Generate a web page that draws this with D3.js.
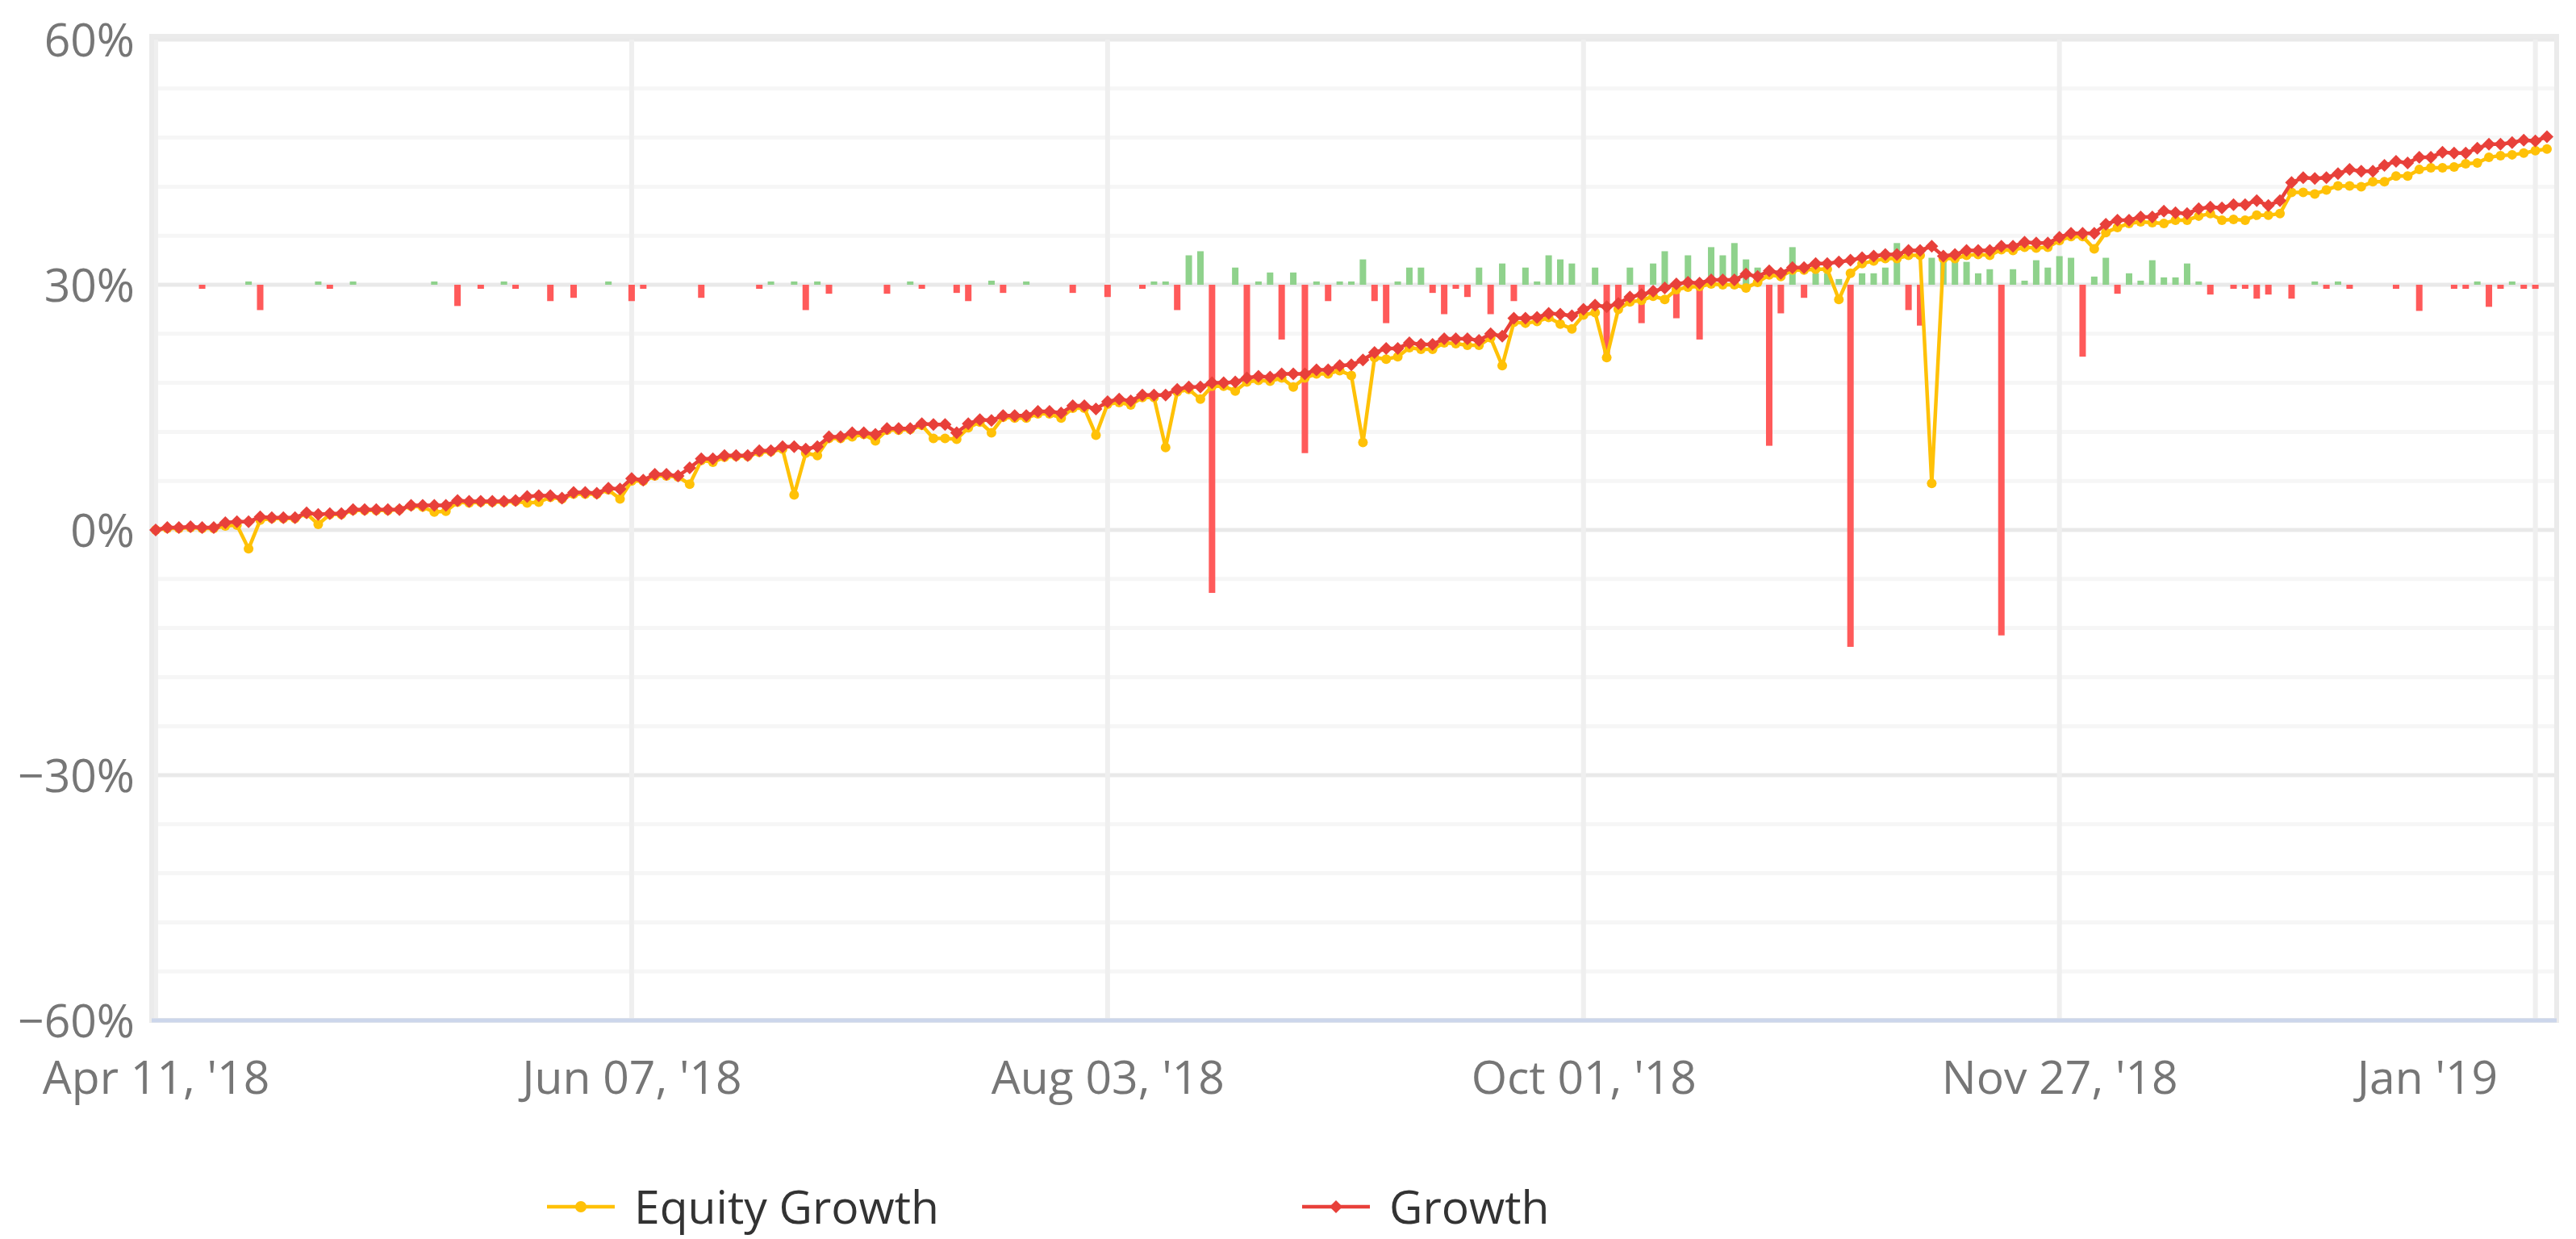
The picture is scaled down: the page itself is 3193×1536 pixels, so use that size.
<!doctype html>
<html lang="en">
<head>
<meta charset="utf-8">
<title>Growth</title>
<script src="https://d3js.org/d3.v7.min.js"></script>
<style>
  body { margin: 0; background: #fff; }
  svg { display: block; font-family: "Open Sans", sans-serif; }
  .axis text { fill: #767676; font-size: 57px; }
  .legend text { fill: #333; font-size: 57px; }
</style>
</head>
<body>
<div id="chart"></div>
<script>
// one value per trading day, starting Apr 11 '18 (percent)
var growth = [
  0, 0.3, 0.3, 0.4, 0.3, 0.3, 0.9, 1.0, 1.0, 1.6,
  1.5, 1.5, 1.5, 2.1, 1.9, 2.0, 2.0, 2.5, 2.5, 2.5,
  2.5, 2.5, 3.0, 3.0, 3.0, 3.0, 3.6, 3.5, 3.5, 3.5,
  3.5, 3.6, 4.1, 4.2, 4.2, 3.9, 4.6, 4.6, 4.5, 5.1,
  5.0, 6.3, 6.1, 6.8, 6.8, 6.6, 7.6, 8.7, 8.7, 9.1,
  9.1, 9.1, 9.7, 9.7, 10.2, 10.2, 9.9, 10.2, 11.4, 11.4,
  11.9, 11.9, 11.7, 12.4, 12.4, 12.4, 13.0, 12.9, 12.9, 11.9,
  13.0, 13.5, 13.4, 14.0, 14.0, 14.0, 14.5, 14.5, 14.3, 15.2,
  15.2, 14.8, 15.7, 16.0, 15.8, 16.5, 16.5, 16.5, 17.2, 17.5,
  17.5, 18.0, 18.0, 18.1, 18.6, 18.8, 18.7, 19.1, 19.1, 19.1,
  19.6, 19.6, 20.1, 20.2, 20.8, 21.7, 22.2, 22.2, 22.9, 22.7,
  22.7, 23.4, 23.4, 23.4, 23.2, 24.0, 23.7, 25.9, 25.9, 26.0,
  26.5, 26.4, 26.2, 27.0, 27.5, 27.3, 27.7, 28.5, 28.8, 29.2,
  29.6, 30.1, 30.3, 30.2, 30.6, 30.6, 30.6, 31.3, 31.0, 31.7,
  31.4, 32.1, 32.1, 32.6, 32.6, 32.8, 33.0, 33.3, 33.5, 33.7,
  33.7, 34.2, 34.2, 34.7, 33.5, 33.7, 34.2, 34.2, 34.2, 34.7,
  34.7, 35.2, 35.1, 35.1, 35.8, 36.3, 36.3, 36.3, 37.4, 37.9,
  37.9, 38.3, 38.3, 39.0, 38.8, 38.7, 39.3, 39.5, 39.4, 39.8,
  39.8, 40.3, 39.7, 40.3, 42.5, 43.1, 43.0, 43.1, 43.6, 44.1,
  43.9, 43.9, 44.6, 45.1, 44.9, 45.6, 45.6, 46.2, 46.1, 46.1,
  46.7, 47.2, 47.2, 47.4, 47.7, 47.6, 48.1
];

var equityGrowth = [
  0, 0.2, 0.2, 0.3, 0.2, 0.2, 0.5, 0.6, -2.3, 1.2,
  1.4, 1.4, 1.4, 2.0, 0.7, 1.9, 1.9, 2.4, 2.4, 2.4,
  2.4, 2.5, 2.9, 2.8, 2.2, 2.3, 3.4, 3.3, 3.4, 3.4,
  3.4, 3.5, 3.3, 3.4, 4.0, 3.8, 4.4, 4.4, 4.4, 4.9,
  3.8, 6.0, 6.0, 6.6, 6.6, 6.5, 5.6, 8.5, 8.3, 8.9,
  9.0, 9.0, 9.5, 9.6, 9.9, 4.3, 9.4, 9.1, 11.2, 11.2,
  11.4, 11.7, 10.9, 12.2, 12.2, 12.3, 12.8, 11.2, 11.2, 11.1,
  12.5, 13.2, 11.9, 13.8, 13.7, 13.7, 14.2, 14.2, 13.7, 14.9,
  14.9, 11.6, 15.4, 15.6, 15.3, 16.2, 16.2, 10.1, 16.9, 17.2,
  16.0, 17.6, 17.6, 17.0, 18.1, 18.3, 18.2, 18.6, 17.5, 18.6,
  19.1, 19.1, 19.5, 18.9, 10.7, 21.1, 20.9, 21.2, 22.3, 22.1,
  22.1, 22.9, 22.8, 22.6, 22.6, 23.5, 20.1, 25.4, 25.3, 25.5,
  26.0, 25.2, 24.6, 26.3, 26.6, 21.1, 27.0, 27.9, 28.1, 28.6,
  28.2, 29.4, 29.7, 29.8, 30.1, 30.0, 30.0, 29.6, 30.3, 31.2,
  31.0, 31.8, 31.8, 31.9, 31.9, 28.2, 31.4, 32.6, 32.9, 33.2,
  33.2, 33.6, 33.6, 5.7, 33.2, 33.2, 33.6, 33.7, 33.6, 34.3,
  34.2, 34.6, 34.5, 34.6, 35.4, 35.9, 35.9, 34.4, 36.4, 37.0,
  37.5, 37.7, 37.6, 37.5, 37.9, 37.9, 38.4, 38.7, 37.9, 38.0,
  37.9, 38.5, 38.5, 38.7, 41.3, 41.3, 41.1, 41.6, 42.1, 42.1,
  42.0, 42.6, 42.6, 43.3, 43.3, 44.1, 44.3, 44.3, 44.4, 44.8,
  44.9, 45.6, 45.8, 45.9, 46.1, 46.4, 46.6
];

// daily result, drawn as columns up/down from the 30% line
var dailyBars = [
  0, 0, 0, 0, -0.5, 0, 0, 0, 0.4, -3.1,
  0, 0, 0, 0, 0.4, -0.5, 0, 0.4, 0, 0,
  0, 0, 0, 0, 0.4, 0, -2.6, 0, -0.5, 0,
  0.4, -0.5, 0, 0, -2.0, 0, -1.6, 0, 0, 0.4,
  0, -2.0, -0.5, 0, 0, 0, 0, -1.6, 0, 0,
  0, 0, -0.5, 0.4, 0, 0.4, -3.1, 0.4, -1.1, 0,
  0, 0, 0, -1.1, 0, 0.4, -0.5, 0, 0, -1.0,
  -2.0, 0, 0.5, -1.0, 0, 0.4, 0, 0, 0, -1.0,
  0, 0, -1.5, 0, 0, -0.5, 0.4, 0.4, -3.1, 3.6,
  4.1, -37.7, 0, 2.1, -11.2, 0.4, 1.5, -6.7, 1.5, -20.6,
  0.4, -2.0, 0.4, 0.4, 3.1, -2.0, -4.7, 0.4, 2.1, 2.1,
  -1.0, -3.6, -0.5, -1.5, 2.1, -3.6, 2.6, -2.0, 2.1, 0.4,
  3.6, 3.1, 2.6, 0, 2.1, -8.8, -2.8, 2.1, -4.7, 2.6,
  4.1, -4.1, 3.6, -6.7, 4.6, 3.6, 5.1, 3.1, 2.1, -19.7,
  -3.5, 4.6, -1.6, 1.4, 1.4, 0.7, -44.3, 1.4, 1.4, 2.1,
  5.1, -3.1, -5.0, 3.3, 3.3, 3.0, 2.8, 1.4, 1.9, -42.9,
  1.9, 0.5, 3.0, 2.1, 3.5, 3.3, -8.8, 1.0, 3.3, -1.1,
  1.4, 0.5, 3.0, 0.9, 0.9, 2.6, 0.4, -1.2, 0, -0.5,
  -0.5, -1.7, -1.2, 0, -1.7, 0, 0.4, -0.5, 0.4, -0.5,
  0, 0, 0, -0.5, 0, -3.2, 0, 0, -0.5, -0.5,
  0.4, -2.7, -0.5, 0.4, -0.5, -0.5, 0
];

var tickLabels = ["Apr 11, '18", "Jun 07, '18", "Aug 03, '18", "Oct 01, '18", "Nov 27, '18", "Jan '19"];
var tickIndex = [0, 41, 82, 123, 164, 205];
var yTicks = [-60, -30, 0, 30, 60];
var barBase = 30;

var W = 3193, H = 1536;
var plotLeft = 188, plotRight = 3169, plotTop = 49, plotBottom = 1265;

var svg = d3.select("#chart").append("svg")
  .attr("width", W)
  .attr("height", H);

var x = d3.scaleLinear().domain([0, growth.length - 1]).range([193, 3157]);
var y = d3.scaleLinear().domain([-60, 60]).range([plotBottom, plotTop]);

// minor horizontal grid every 6%
svg.append("g").selectAll("line")
  .data(d3.range(-60, 61, 6).filter(function(d){ return d % 30 != 0; }))
  .join("line")
    .attr("x1", plotLeft).attr("x2", plotRight)
    .attr("y1", function(d){ return y(d); })
    .attr("y2", function(d){ return y(d); })
    .attr("stroke", "#f6f6f6")
    .attr("stroke-width", 5);

// major horizontal grid
svg.append("g").selectAll("line")
  .data(yTicks)
  .join("line")
    .attr("x1", plotLeft).attr("x2", plotRight)
    .attr("y1", function(d){ return y(d); })
    .attr("y2", function(d){ return y(d); })
    .attr("stroke", "#e9e9e9")
    .attr("stroke-width", 5);

// vertical grid on the date ticks
svg.append("g").selectAll("line")
  .data(tickIndex)
  .join("line")
    .attr("x1", function(d){ return x(d); })
    .attr("x2", function(d){ return x(d); })
    .attr("y1", plotTop).attr("y2", plotBottom)
    .attr("stroke", "#efefef")
    .attr("stroke-width", 6);

// plot frame
svg.append("rect")
  .attr("x", plotLeft).attr("y", plotTop - 4)
  .attr("width", plotRight - plotLeft).attr("height", plotBottom - plotTop + 4)
  .attr("fill", "none")
  .attr("stroke", "#ebebeb")
  .attr("stroke-width", 6);

// columns
svg.append("g").selectAll("rect")
  .data(dailyBars.map(function(v, i){ return {i: i, v: v}; }).filter(function(d){ return d.v != 0; }))
  .join("rect")
    .attr("x", function(d){ return x(d.i) - 4; })
    .attr("width", 8)
    .attr("y", function(d){ return Math.min(y(barBase), y(barBase + d.v)); })
    .attr("height", function(d){ return Math.abs(y(barBase + d.v) - y(barBase)); })
    .attr("fill", function(d){ return d.v > 0 ? "#8fd28c" : "#ff5a5a"; });

// x axis line
svg.append("line")
  .attr("x1", plotLeft).attr("x2", plotRight)
  .attr("y1", plotBottom).attr("y2", plotBottom)
  .attr("stroke", "#ccd6eb")
  .attr("stroke-width", 5);

var line = d3.line()
  .x(function(d, i){ return x(i); })
  .y(function(d){ return y(d); });

var EQ = "#ffc107", GR = "#e8403a";
var diamond = "M0,-8L8,0L0,8L-8,0Z";

// equity growth
svg.append("path")
  .datum(equityGrowth)
  .attr("d", line)
  .attr("fill", "none")
  .attr("stroke", EQ)
  .attr("stroke-width", 4.5)
  .attr("stroke-linejoin", "round");
svg.append("g").selectAll("circle")
  .data(equityGrowth)
  .join("circle")
    .attr("cx", function(d, i){ return x(i); })
    .attr("cy", function(d){ return y(d); })
    .attr("r", 6)
    .attr("fill", EQ);

// growth
svg.append("path")
  .datum(growth)
  .attr("d", line)
  .attr("fill", "none")
  .attr("stroke", GR)
  .attr("stroke-width", 4.5)
  .attr("stroke-linejoin", "round");
svg.append("g").selectAll("path")
  .data(growth)
  .join("path")
    .attr("d", diamond)
    .attr("transform", function(d, i){ return "translate(" + x(i) + "," + y(d) + ")"; })
    .attr("fill", GR);

// y axis labels
var yAxis = d3.axisLeft(y)
  .tickValues(yTicks)
  .tickSize(0)
  .tickPadding(0)
  .tickFormat(function(d){ return d3.format("d")(d) + "%"; });
var gy = svg.append("g")
  .attr("class", "axis")
  .attr("transform", "translate(167,0)")
  .call(yAxis)
  .attr("font-family", null)
  .attr("font-size", null);
gy.select(".domain").remove();
gy.selectAll("text").attr("dy", "0.36em");

// x axis labels
var xAxis = d3.axisBottom(x)
  .tickValues(tickIndex)
  .tickSize(0)
  .tickPadding(0)
  .tickFormat(function(d, i){ return tickLabels[i]; });
var gx = svg.append("g")
  .attr("class", "axis")
  .attr("transform", "translate(0,1300)")
  .call(xAxis)
  .attr("font-family", null)
  .attr("font-size", null);
gx.select(".domain").remove();
gx.selectAll("text").attr("dy", "0.98em");
// last label pulled inside the chart
gx.selectAll(".tick").filter(function(d, i){ return i == tickIndex.length - 1; })
  .select("text").attr("text-anchor", "end").attr("x", -47);

// legend
var legendItems = [
  {name: "Equity Growth", color: EQ, x: 678, shape: "circle"},
  {name: "Growth", color: GR, x: 1614, shape: "diamond"}
];
var lg = svg.append("g").attr("class", "legend");
legendItems.forEach(function(it){
  var g = lg.append("g").attr("transform", "translate(" + it.x + ",1496)");
  g.append("line").attr("x1", 0).attr("x2", 84)
    .attr("stroke", it.color).attr("stroke-width", 4.5);
  if (it.shape == "circle") {
    g.append("circle").attr("cx", 42).attr("r", 7).attr("fill", it.color);
  } else {
    g.append("path").attr("d", diamond).attr("transform", "translate(42,0)").attr("fill", it.color);
  }
  g.append("text").attr("x", 108).attr("dy", "0.36em").text(it.name);
});
</script>
</body>
</html>
